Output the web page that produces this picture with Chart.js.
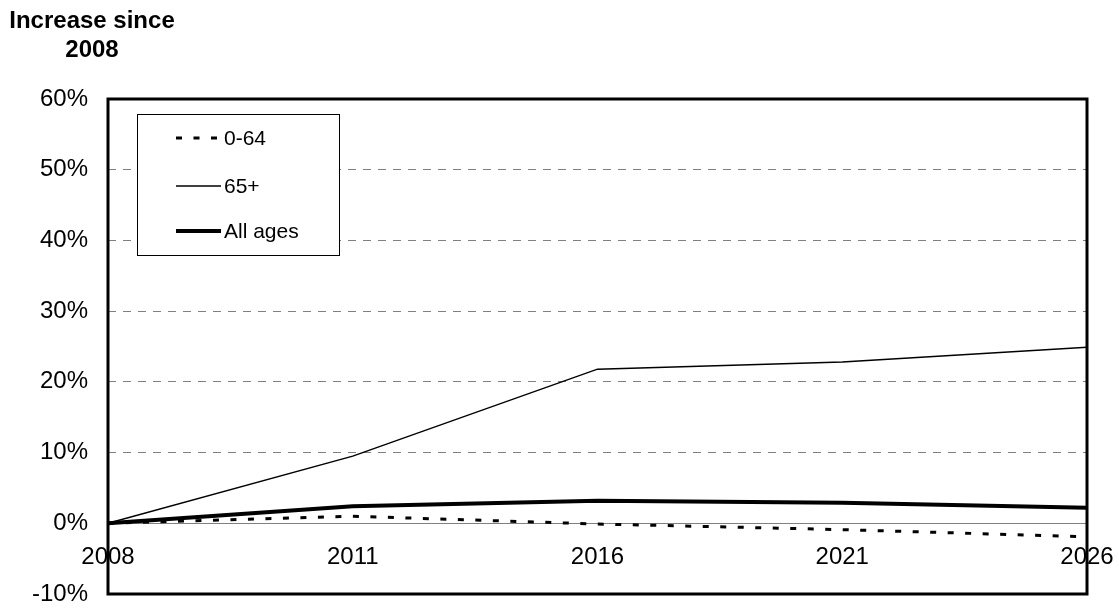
<html lang="en">
<head>
    <meta charset="UTF-8">
    <title>Increase since 2008</title>
    <script src="https://cdn.jsdelivr.net/npm/chart.js"></script>
    <style>
        html, body { margin: 0; padding: 0; background: #fff; }
        #wrap { width: 1119px; height: 608px; position: relative; }
    </style>
</head>
<body>
    <div id="wrap"><canvas id="chart"></canvas></div>

    <script>
        // data (percent increase since 2008)
        const years = ['2008', '2011', '2016', '2021', '2026'];
        const seriesNames = ['0-64', '65+', 'All ages'];
        const age0to64 = [0, 1.0, -0.1, -0.9, -1.9];
        const age65plus = [0, 9.5, 21.8, 22.8, 24.9];
        const allAges = [0, 2.4, 3.2, 2.9, 2.2];
        const yMin = -10, yMax = 60, yStep = 10;
        const titleLines = ['Increase since', '2008'];

        const FONT = "Arial, 'Liberation Sans', sans-serif";

        // outer box round the plot area
        const frame = {
            id: 'frame',
            afterDatasetsDraw(chart) {
                const a = chart.chartArea, c = chart.ctx;
                c.save();
                c.strokeStyle = '#000';
                c.lineWidth = 3;
                c.strokeRect(a.left, a.top, a.right - a.left, a.bottom - a.top);
                c.restore();
            }
        };

        // legend box inside the plot, and the two-line axis title
        const boxLegend = {
            id: 'boxLegend',
            afterDraw(chart) {
                const c = chart.ctx;
                c.save();
                c.fillStyle = '#fff';
                c.fillRect(137, 114, 202, 141);
                c.strokeStyle = '#000';
                c.lineWidth = 1;
                c.strokeRect(137.5, 114.5, 202, 141);
                const rows = [138, 186, 231];
                chart.data.datasets.forEach((ds, i) => {
                    c.beginPath();
                    c.strokeStyle = ds.borderColor;
                    c.lineWidth = ds.borderWidth;
                    c.setLineDash(ds.borderDash || []);
                    c.moveTo(176, rows[i]);
                    c.lineTo(221, rows[i]);
                    c.stroke();
                    c.setLineDash([]);
                    c.fillStyle = '#000';
                    c.font = '21px ' + FONT;
                    c.textBaseline = 'middle';
                    c.textAlign = 'left';
                    c.fillText(ds.label, 224, rows[i] + 1);
                });
                c.font = 'bold 24px ' + FONT;
                c.textAlign = 'center';
                c.textBaseline = 'alphabetic';
                c.fillText(titleLines[0], 92, 28);
                c.fillText(titleLines[1], 92, 57);
                c.restore();
            }
        };

        const ctx = document.getElementById('chart').getContext('2d');
        new Chart(ctx, {
            type: 'line',
            data: {
                labels: years,
                datasets: [
                    {
                        label: seriesNames[0],
                        data: age0to64,
                        borderColor: '#000',
                        borderWidth: 3,
                        borderDash: [6, 11.5]
                    },
                    {
                        label: seriesNames[1],
                        data: age65plus,
                        borderColor: '#000',
                        borderWidth: 1.5
                    },
                    {
                        label: seriesNames[2],
                        data: allAges,
                        borderColor: '#000',
                        borderWidth: 4
                    }
                ]
            },
            options: {
                responsive: true,
                maintainAspectRatio: false,
                animation: false,
                elements: { point: { radius: 0 }, line: { tension: 0 } },
                layout: { padding: { left: 0, top: 99, right: 32, bottom: 14 } },
                plugins: {
                    legend: { display: false },
                    tooltip: { enabled: false }
                },
                scales: {
                    x: {
                        type: 'category',
                        position: { y: 0 },
                        offset: false,
                        afterFit(scale) {
                            scale.paddingLeft = 0;
                            scale.paddingRight = 0;
                            scale.paddingTop = 0;
                            scale.paddingBottom = 0;
                        },
                        grid: { display: false, drawTicks: false },
                        border: { display: true, color: '#808080', width: 1 },
                        ticks: {
                            autoSkip: false,
                            maxRotation: 0,
                            padding: 20,
                            color: '#000',
                            font: { family: FONT, size: 24 }
                        }
                    },
                    y: {
                        min: yMin,
                        max: yMax,
                        afterFit(scale) {
                            scale.width = 108;
                            scale.paddingTop = 0;
                            scale.paddingBottom = 0;
                        },
                        grid: {
                            drawTicks: false,
                            lineWidth: 1,
                            color: (c) => (c.tick && (c.tick.value === 0 || c.tick.value === yMin || c.tick.value === yMax)) ? 'rgba(0,0,0,0)' : '#808080'
                        },
                        border: { display: false, dash: [8, 7] },
                        ticks: {
                            stepSize: yStep,
                            padding: 20,
                            color: '#000',
                            font: { family: FONT, size: 24 },
                            callback: (v) => v + '%'
                        }
                    }
                }
            },
            plugins: [frame, boxLegend]
        });
    </script>
</body>
</html>
